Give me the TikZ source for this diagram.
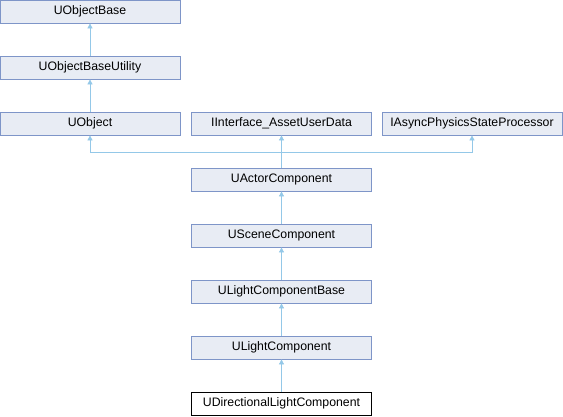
\documentclass[tikz,border=0pt]{standalone}
\usepackage{fontspec}
\setmainfont{Liberation Sans}
\usepackage{tikz}
\usetikzlibrary{positioning,arrows.meta}
\usepackage{xcolor}
\definecolor{boxfill}{HTML}{E8ECF4}
\definecolor{boxline}{HTML}{7E95C8}
\definecolor{arrowcol}{HTML}{94C8E8}

\begin{document}
\begin{tikzpicture}[x=1pt,y=-1pt,>={Triangle[length=5pt,width=5pt]},
  cls/.style={draw=boxline,fill=boxfill,line width=0.8pt,minimum width=180pt,minimum height=23pt,inner sep=0pt,font=\fontsize{12.3}{14}\selectfont},
  leaf/.style={cls,draw=black,fill=white},
  inh/.style={<-,draw=arrowcol,line width=0.8pt}]
\useasboundingbox (0,0) rectangle (563,416);
\node[cls] (base) at (90,11.5) {UObjectBase};
\node[cls] (util) at (90,67.5) {UObjectBaseUtility};
\node[cls] (uobj) at (90,123.5) {UObject};
\node[cls] (iface) at (281.5,123.5) {IInterface\_AssetUserData};
\node[cls] (async) at (472,123.5) {IAsyncPhysicsStateProcessor};
\node[cls] (actor) at (281.5,179.5) {UActorComponent};
\node[cls] (scene) at (281.5,235.5) {USceneComponent};
\node[cls] (lbase) at (281.5,291.5) {ULightComponentBase};
\node[cls] (light) at (281.5,347.5) {ULightComponent};
\node[leaf] (dir) at (281.5,403.5) {UDirectionalLightComponent};
\coordinate (join) at (281.5,152);
\draw[inh] (base) -- (util);
\draw[inh] (util) -- (uobj);
\draw[inh] (uobj.south) |- (join) -- (actor.north);
\draw[inh] (iface) -- (actor);
\draw[inh] (async.south) |- (join);
\draw[inh] (actor) -- (scene);
\draw[inh] (scene) -- (lbase);
\draw[inh] (lbase) -- (light);
\draw[inh] (light) -- (dir);
\end{tikzpicture}
\end{document}
